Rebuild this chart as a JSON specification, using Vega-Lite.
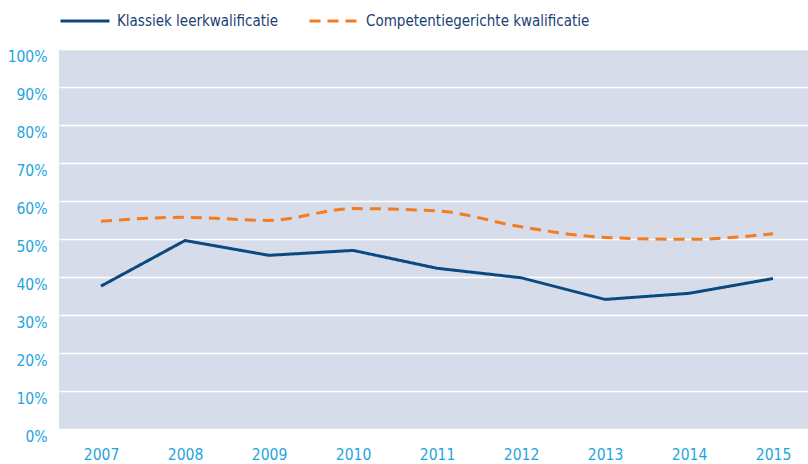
{
  "$schema": "https://vega.github.io/schema/vega-lite/v6.json",
  "width": 749,
  "height": 380,
  "autosize": {"type": "none"},
  "padding": {"left": 59, "top": 49, "right": 0, "bottom": 35},
  "background": "#ffffff",
  "config": {
    "view": {"fill": "#d6dce9", "stroke": null},
    "font": "DejaVu Sans Condensed, sans-serif"
  },
  "data": {
    "values": [
      {"jaar": "2007", "reeks": "Klassiek leerkwalificatie", "waarde": 0.376},
      {"jaar": "2008", "reeks": "Klassiek leerkwalificatie", "waarde": 0.496},
      {"jaar": "2009", "reeks": "Klassiek leerkwalificatie", "waarde": 0.457},
      {"jaar": "2010", "reeks": "Klassiek leerkwalificatie", "waarde": 0.470},
      {"jaar": "2011", "reeks": "Klassiek leerkwalificatie", "waarde": 0.423},
      {"jaar": "2012", "reeks": "Klassiek leerkwalificatie", "waarde": 0.398},
      {"jaar": "2013", "reeks": "Klassiek leerkwalificatie", "waarde": 0.341},
      {"jaar": "2014", "reeks": "Klassiek leerkwalificatie", "waarde": 0.357},
      {"jaar": "2015", "reeks": "Klassiek leerkwalificatie", "waarde": 0.396},
      {"jaar": "2007", "reeks": "Competentiegerichte kwalificatie", "waarde": 0.547},
      {"jaar": "2008", "reeks": "Competentiegerichte kwalificatie", "waarde": 0.557},
      {"jaar": "2009", "reeks": "Competentiegerichte kwalificatie", "waarde": 0.549},
      {"jaar": "2010", "reeks": "Competentiegerichte kwalificatie", "waarde": 0.580},
      {"jaar": "2011", "reeks": "Competentiegerichte kwalificatie", "waarde": 0.574},
      {"jaar": "2012", "reeks": "Competentiegerichte kwalificatie", "waarde": 0.532},
      {"jaar": "2013", "reeks": "Competentiegerichte kwalificatie", "waarde": 0.504},
      {"jaar": "2014", "reeks": "Competentiegerichte kwalificatie", "waarde": 0.499},
      {"jaar": "2015", "reeks": "Competentiegerichte kwalificatie", "waarde": 0.514}
    ]
  },
  "encoding": {
    "x": {
      "field": "jaar",
      "type": "ordinal",
      "scale": {"type": "point", "padding": 0.4583, "align": 0.5455},
      "axis": {
        "title": null,
        "domain": false,
        "ticks": false,
        "tickSize": 0,
        "grid": false,
        "labelAngle": 0,
        "labelPadding": 18,
        "labelFontSize": 15.5,
        "labelColor": "#1ea4de",
        "labelFont": "DejaVu Sans Condensed, sans-serif"
      }
    },
    "y": {
      "field": "waarde",
      "type": "quantitative",
      "scale": {"domain": [0, 1], "nice": false},
      "axis": {
        "title": null,
        "format": ".0%",
        "values": [0, 0.1, 0.2, 0.3, 0.4, 0.5, 0.6, 0.7, 0.8, 0.9, 1],
        "domain": false,
        "ticks": false,
        "tickSize": 0,
        "grid": true,
        "gridColor": "#ffffff",
        "gridWidth": 1.5,
        "gridOpacity": 1,
        "labelOffset": 7,
        "labelPadding": 12,
        "labelFontSize": 15.5,
        "labelColor": "#1ea4de",
        "labelFont": "DejaVu Sans Condensed, sans-serif"
      }
    },
    "color": {
      "field": "reeks",
      "type": "nominal",
      "scale": {
        "domain": ["Klassiek leerkwalificatie", "Competentiegerichte kwalificatie"],
        "range": ["#0b4a80", "#f47c20"]
      },
      "legend": {
        "title": null,
        "orient": "none",
        "direction": "horizontal",
        "legendX": 0,
        "legendY": -54,
        "symbolType": "stroke",
        "symbolSize": 2401,
        "symbolStrokeWidth": 3,
        "labelFontSize": 15,
        "labelColor": "#1b3f73",
        "labelOffset": 6,
        "columnPadding": 24,
        "labelLimit": 400,
        "labelFont": "DejaVu Sans Condensed, sans-serif"
      }
    },
    "strokeDash": {
      "field": "reeks",
      "type": "nominal",
      "scale": {
        "domain": ["Klassiek leerkwalificatie", "Competentiegerichte kwalificatie"],
        "range": [[1, 0], [11, 7]]
      },
      "legend": {
        "title": null,
        "orient": "none",
        "direction": "horizontal",
        "legendX": 0,
        "legendY": -54,
        "symbolType": "stroke",
        "symbolSize": 2401,
        "symbolStrokeWidth": 3,
        "labelFontSize": 15,
        "labelColor": "#1b3f73",
        "labelOffset": 6,
        "columnPadding": 24,
        "labelLimit": 400,
        "labelFont": "DejaVu Sans Condensed, sans-serif"
      }
    }
  },
  "layer": [
    {
      "transform": [{"filter": "datum.reeks === 'Klassiek leerkwalificatie'"}],
      "mark": {"type": "line", "strokeWidth": 3, "interpolate": "linear"}
    },
    {
      "transform": [{"filter": "datum.reeks === 'Competentiegerichte kwalificatie'"}],
      "mark": {"type": "line", "strokeWidth": 3, "interpolate": "monotone"}
    }
  ]
}
